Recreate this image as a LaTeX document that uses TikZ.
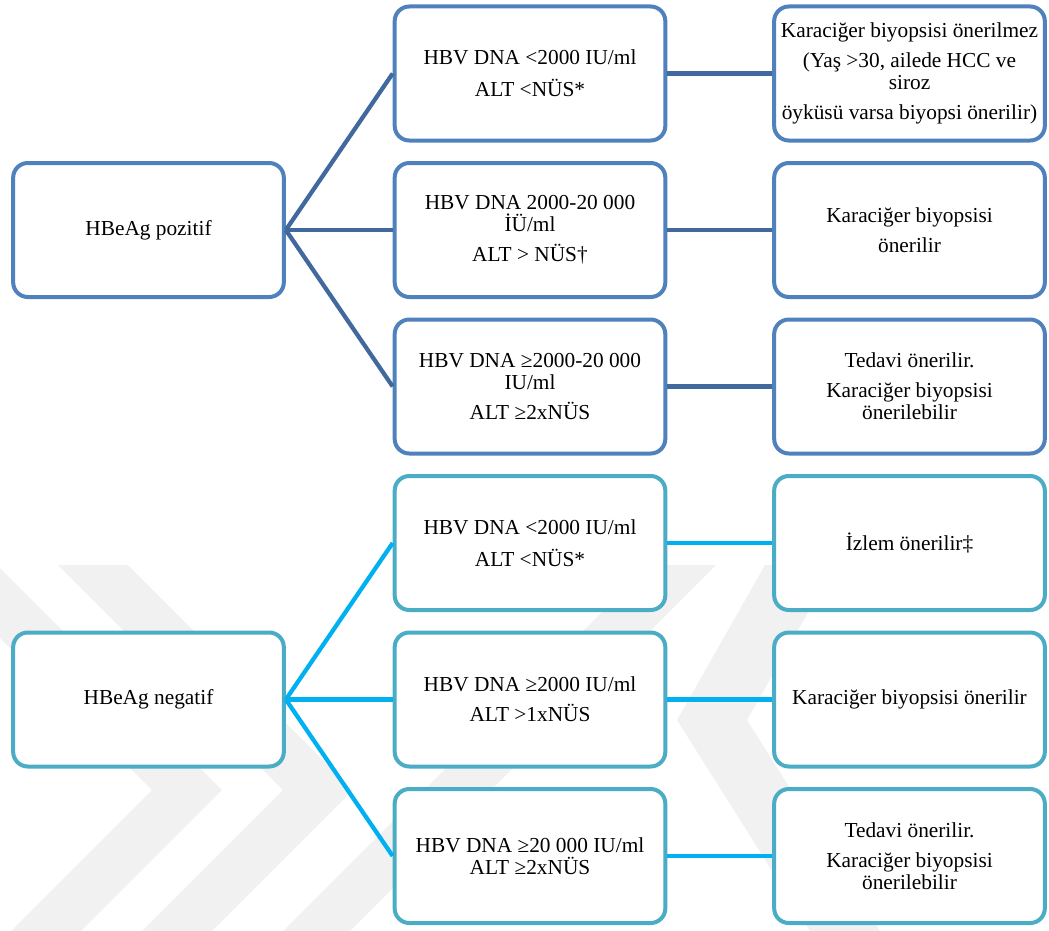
\documentclass[tikz,border=0pt]{standalone}
\usepackage{fontspec}
\setmainfont{Liberation Serif}
\definecolor{pozbox}{HTML}{4F81BD}
\definecolor{pozline}{HTML}{41699E}
\definecolor{negbox}{HTML}{4BACC6}
\definecolor{negline}{HTML}{00B0F0}
\definecolor{filigran}{HTML}{F1F1F1}
\tikzset{
	kutu/.style = {draw, line width=3pt, rounded corners=11pt, fill=white, minimum width=203pt, minimum height=100.5pt, align=center, inner sep=2pt, font=\fontsize{16}{16.5}\selectfont},
	pozkutu/.style = {kutu, draw=pozbox},
	negkutu/.style = {kutu, draw=negbox},
	pozcizgi/.style = {pozline, line width=3.2pt},
	negcizgi/.style = {negline, line width=3.2pt}
}
\begin{document}
\begin{tikzpicture}[x=0.75pt, y=-0.75pt]
			\useasboundingbox (0,0) rectangle (1049,931);
			% filigran
			\begin{scope}
				\clip (0,0) rectangle (1049,931);
				\fill[filigran] (-73,565) -- (-3,565) -- (222,790) -- (81,931) -- (11,931) -- (152,790) -- cycle;
				\fill[filigran] (58,565) -- (128,565) -- (353,790) -- (212,931) -- (142,931) -- (283,790) -- cycle;
				\fill[filigran] (283,931) -- (350,931) -- (716,565) -- (649,565) -- cycle;
				\fill[filigran] (765,565) -- (835,565) -- (747,720) -- (880,931) -- (810,931) -- (677,720) -- cycle;
			\end{scope}
			% HBeAg pozitif
			\node[pozkutu] (hbeagpoz) at (148.5,230) {HBeAg pozitif};
			\node[pozkutu] (poz1) at (530,73.5) {HBV DNA <2000 IU/ml\\[7.5pt]ALT <NÜS*};
			\node[pozkutu] (poz2) at (530,230) {HBV DNA 2000-20 000\\İÜ/ml\\[6pt]ALT > NÜS†};
			\node[pozkutu] (poz3) at (530,386.5) {HBV DNA ≥2000-20 000\\IU/ml\\[6pt]ALT ≥2xNÜS};
			\node[pozkutu] (pozoneri1) at (909.5,73.5) {Karaciğer biyopsisi önerilmez\\[6pt](Yaş >30, ailede HCC ve\\siroz\\[6pt]öyküsü varsa biyopsi önerilir)};
			\node[pozkutu] (pozoneri2) at (909.5,230) {Karaciğer biyopsisi\\[6pt]önerilir};
			\node[pozkutu] (pozoneri3) at (909.5,386.5) {Tedavi önerilir.\\[6pt]Karaciğer biyopsisi\\önerilebilir};
			\draw[pozcizgi] (hbeagpoz.east) -- (poz1.west);
			\draw[pozcizgi] (hbeagpoz.east) -- (poz2.west);
			\draw[pozcizgi] (hbeagpoz.east) -- (poz3.west);
			\draw[pozcizgi] (poz1.east) -- (pozoneri1.west);
			\draw[pozcizgi] (poz2.east) -- (pozoneri2.west);
			\draw[pozcizgi] (poz3.east) -- (pozoneri3.west);
			% HBeAg negatif
			\node[negkutu] (hbeagneg) at (148.5,699.5) {HBeAg negatif};
			\node[negkutu] (neg1) at (530,543) {HBV DNA <2000 IU/ml\\[7.5pt]ALT <NÜS*};
			\node[negkutu] (neg2) at (530,699.5) {HBV DNA ≥2000 IU/ml\\[6pt]ALT >1xNÜS};
			\node[negkutu] (neg3) at (530,856) {HBV DNA ≥20 000 IU/ml\\ALT ≥2xNÜS};
			\node[negkutu] (negoneri1) at (909.5,543) {İzlem önerilir‡};
			\node[negkutu] (negoneri2) at (909.5,699.5) {Karaciğer biyopsisi önerilir};
			\node[negkutu] (negoneri3) at (909.5,856) {Tedavi önerilir.\\[6pt]Karaciğer biyopsisi\\önerilebilir};
			\draw[negcizgi] (hbeagneg.east) -- (neg1.west);
			\draw[negcizgi] (hbeagneg.east) -- (neg2.west);
			\draw[negcizgi] (hbeagneg.east) -- (neg3.west);
			\draw[negcizgi] (neg1.east) -- (negoneri1.west);
			\draw[negcizgi] (neg2.east) -- (negoneri2.west);
			\draw[negcizgi] (neg3.east) -- (negoneri3.west);
		\end{tikzpicture}
\end{document}
